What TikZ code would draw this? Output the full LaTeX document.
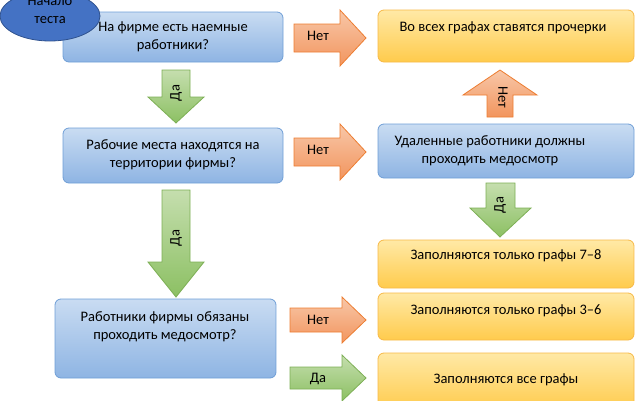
\documentclass[tikz,border=0pt]{standalone}
\usepackage{fontspec}
\setmainfont{Carlito}
\definecolor{bt}{HTML}{C9DCF2}\definecolor{bb}{HTML}{8EB4E3}\definecolor{bd}{HTML}{6F9ED6}
\definecolor{yt}{HTML}{FFE9A6}\definecolor{yb}{HTML}{FFCB4C}\definecolor{yd}{HTML}{F7B947}
\definecolor{ot}{HTML}{F8C7A8}\definecolor{ob}{HTML}{F2955E}\definecolor{od}{HTML}{ED7D31}
\definecolor{gt}{HTML}{C5DEAE}\definecolor{gb}{HTML}{8CC063}\definecolor{gd}{HTML}{7DAF55}
\definecolor{el}{HTML}{4472C4}\definecolor{eld}{HTML}{2F528F}
\begin{document}
\begin{tikzpicture}[x=1pt,y=-1pt,
  bbox/.style={draw=bd, line width=0.8pt, rounded corners=6pt, top color=bt, bottom color=bb},
  ybox/.style={draw=yd, line width=0.8pt, rounded corners=6pt, top color=yt, bottom color=yb},
  oarr/.style={draw=od, line width=0.8pt, top color=ot, bottom color=ob},
  garr/.style={draw=gd, line width=0.8pt, top color=gt, bottom color=gb},
  txt/.style={font=\fontsize{14.5}{18}\selectfont, align=center, text=black, inner sep=1pt}]
\useasboundingbox (0,0) rectangle (641,400);
% boxes
\draw[bbox] (63,12) rectangle (283,62); \node[txt] (q1) at (173,37) {На фирме есть наемные\\работники?};
\draw[bbox] (63,128) rectangle (283,183); \node[txt] (q2) at (173,155) {Рабочие места находятся на\\территории фирмы?};
\draw[bbox] (55,299) rectangle (276,378); \node[txt] (q3) at (165,327) {Работники фирмы обязаны\\проходить медосмотр?};
\draw[bbox] (378,124) rectangle (634,178); \node[txt] (r2) at (490,151) {Удаленные работники должны\\проходить медосмотр};
\draw[ybox] (378,10) rectangle (634,62); \node[txt] (r1) at (503,28) {Во всех графах ставятся прочерки};
\draw[ybox] (378,240) rectangle (634,288); \node[txt] (r3) at (506,256) {Заполняются только графы 7–8};
\draw[ybox] (378,293) rectangle (634,340); \node[txt] (r4) at (506,311) {Заполняются только графы 3–6};
\draw[ybox] (378,353) rectangle (634,410); \node[txt] (r5) at (506,380) {Заполняются все графы};
% start ellipse
\draw[draw=eld, line width=0.8pt, fill=el] (50,16) ellipse (50 and 25);
\node[txt] (s) at (50,10) {Начало\\теста};
% orange right arrows
\draw[oarr] (294,24)--(340,24)--(340,10)--(366,38)--(340,66)--(340,52)--(294,52)--cycle;
\node[txt] (n1) at (318,36) {Нет};
\draw[oarr] (294,138)--(340,138)--(340,124)--(366,152)--(340,180)--(340,166)--(294,166)--cycle;
\node[txt] (n2) at (318,150) {Нет};
\draw[oarr] (290,308)--(342,308)--(342,297)--(366,320)--(342,343)--(342,332)--(290,332)--cycle;
\node[txt] (n3) at (318,320) {Нет};
% green right arrow
\draw[garr] (290,367)--(342,367)--(342,355)--(366,378)--(342,401)--(342,389)--(290,389)--cycle;
\node[txt] (d3) at (318,379) {Да};
% orange up arrow
\draw[oarr] (487,117)--(487,95)--(463,95)--(500,70)--(537,95)--(513,95)--(513,117)--cycle;
\node[txt, rotate=-90] (n4) at (503,97) {Нет};
% green down arrows
\draw[garr] (162,70)--(190,70)--(190,97)--(204,97)--(176,123)--(148,97)--(162,97)--cycle;
\node[txt, rotate=90] (d1) at (176,93) {Да};
\draw[garr] (162,190)--(190,190)--(190,262)--(204,262)--(176,297)--(148,262)--(162,262)--cycle;
\node[txt, rotate=90] (d2) at (176,238) {Да};
\draw[garr] (486,183)--(515,183)--(515,208)--(531,208)--(500,237)--(470,208)--(486,208)--cycle;
\node[txt, rotate=90] (d4) at (500,205) {Да};
\end{tikzpicture}
\end{document}
